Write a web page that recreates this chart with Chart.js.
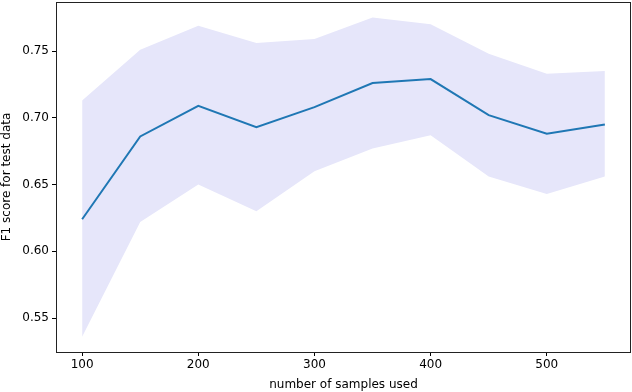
<!DOCTYPE html>
<html>
<head>
<meta charset="utf-8">
<script src="https://cdn.jsdelivr.net/npm/chart.js@4"></script>
<style>
  html, body { margin: 0; padding: 0; background: #fff; }
  #wrap { width: 632px; height: 392px; }
</style>
</head>
<body>
<div id="wrap"><canvas id="chart"></canvas></div>
<script>
// samples used on x axis
const samples = [100, 150, 200, 250, 300, 350, 400, 450, 500, 550];
// mean F1 score and the band around it
const meanF1 = [0.624, 0.686, 0.709, 0.693, 0.708, 0.726, 0.729, 0.702, 0.688, 0.695];
const upperF1 = [0.713, 0.751, 0.769, 0.756, 0.759, 0.775, 0.770, 0.748, 0.733, 0.735];
const lowerF1 = [0.536, 0.622, 0.650, 0.630, 0.660, 0.677, 0.687, 0.656, 0.643, 0.656];
const xTicks = [100, 200, 300, 400, 500];
const yTicks = [0.55, 0.60, 0.65, 0.70, 0.75];

const toPoints = (ys) => samples.map((x, i) => ({ x: x, y: ys[i] }));

// draw the full box around the plot like matplotlib spines
const frame = {
  id: "frame",
  afterDraw(chart) {
    const a = chart.chartArea;
    const ctx = chart.ctx;
    ctx.save();
    ctx.strokeStyle = "#222";
    ctx.lineWidth = 1;
    ctx.strokeRect(a.left + 0.5, a.top + 0.5, a.right - a.left - 1, a.bottom - a.top);
    ctx.restore();
  }
};

Chart.defaults.font.family = "'DejaVu Sans', sans-serif";
Chart.defaults.font.size = 12;
Chart.defaults.color = "#000";

new Chart(document.getElementById("chart"), {
  type: "line",
  data: {
    datasets: [
      {
        data: toPoints(meanF1),
        borderColor: "#1f77b4",
        borderWidth: 2,
        pointRadius: 0,
        fill: false,
        order: 0
      },
      {
        data: toPoints(upperF1),
        borderWidth: 0,
        borderColor: "rgba(0,0,0,0)",
        backgroundColor: "rgba(230,230,250,1)",
        pointRadius: 0,
        fill: "+1",
        order: 1
      },
      {
        data: toPoints(lowerF1),
        borderWidth: 0,
        borderColor: "rgba(0,0,0,0)",
        pointRadius: 0,
        fill: false,
        order: 2
      }
    ]
  },
  options: {
    responsive: true,
    maintainAspectRatio: false,
    animation: false,
    layout: { padding: { top: 2, right: 1, left: 0, bottom: 0 } },
    plugins: {
      legend: { display: false },
      tooltip: { enabled: false }
    },
    scales: {
      x: {
        type: "linear",
        min: 77.5,
        max: 572.5,
        afterBuildTicks: (axis) => { axis.ticks = xTicks.map(v => ({ value: v })); },
        afterFit: (axis) => {
          axis.height = 40;
          axis.paddingLeft = 0;
          axis.paddingRight = 0;
        },
        grid: { drawOnChartArea: false, tickLength: 4, color: "#000" },
        border: { display: false },
        ticks: { padding: 2, maxRotation: 0, callback: (v) => String(v) },
        title: { display: true, text: "number of samples used", padding: { top: 1, bottom: 0 } }
      },
      y: {
        type: "linear",
        min: 0.5246,
        max: 0.7867,
        afterBuildTicks: (axis) => { axis.ticks = yTicks.map(v => ({ value: v })); },
        afterFit: (axis) => {
          axis.width = 56;
          axis.paddingTop = 0;
          axis.paddingBottom = 0;
        },
        grid: { drawOnChartArea: false, tickLength: 4, color: "#000" },
        border: { display: false },
        ticks: { padding: 3, callback: (v) => v.toFixed(2) },
        title: { display: true, text: "F1 score for test data", padding: { top: 0, bottom: 2 } }
      }
    }
  },
  plugins: [frame]
});
</script>
</body>
</html>
